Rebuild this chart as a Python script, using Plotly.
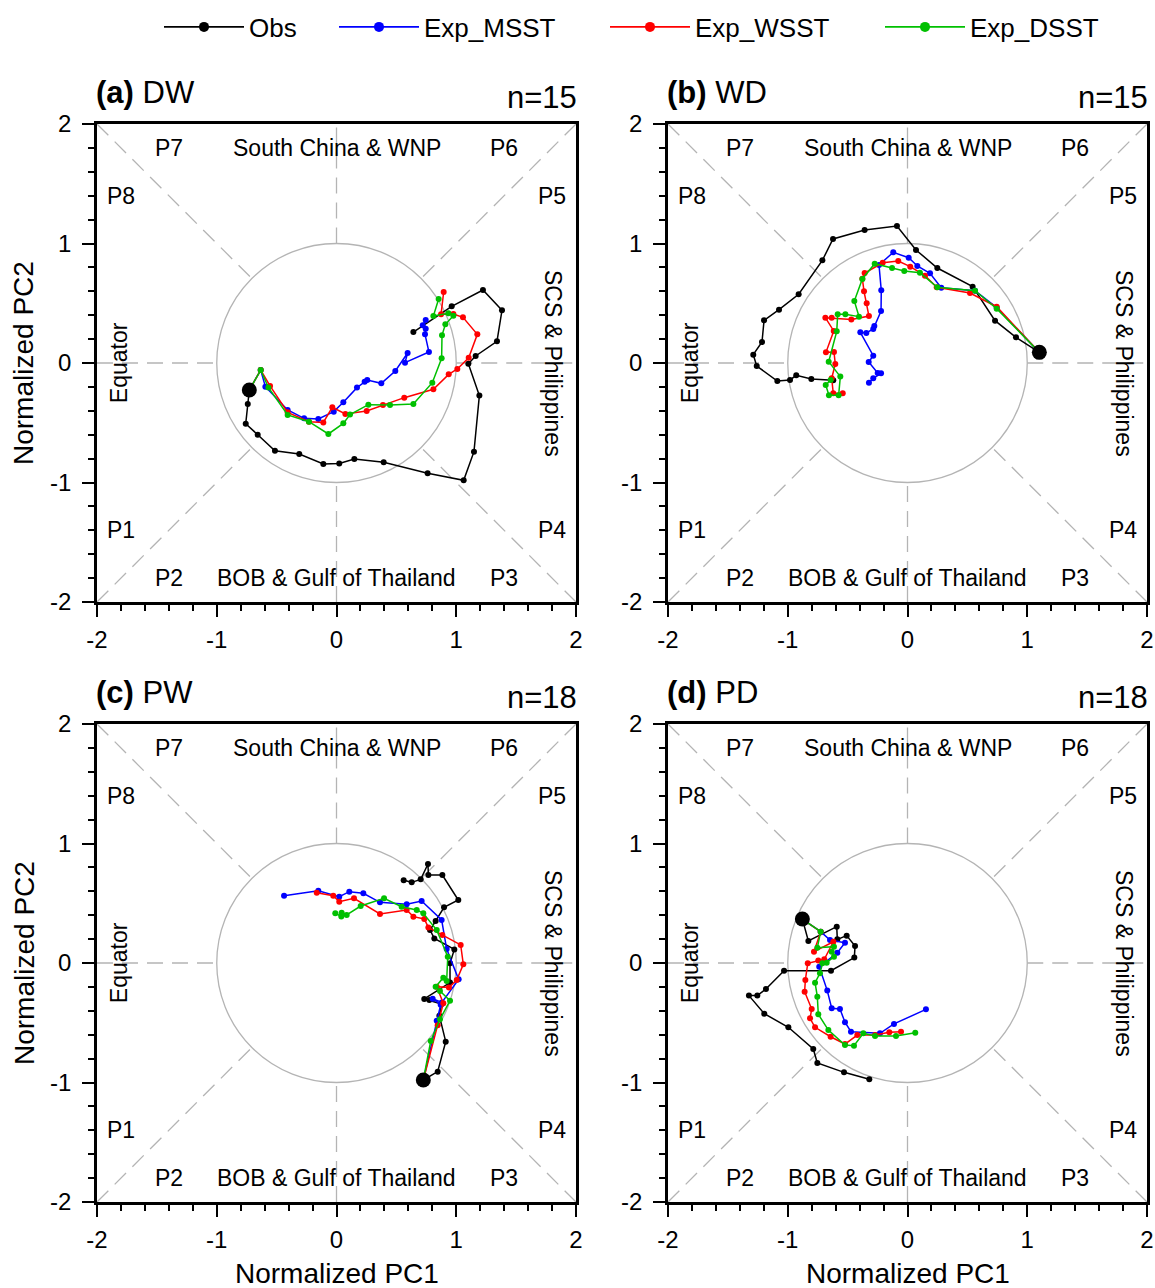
import plotly.graph_objects as go

# ---------------- data (Normalized PC1, PC2) ----------------
# Panel (a) DW
a_obs_x = [-0.728, -0.741, -0.758, -0.658, -0.514, -0.311, -0.110, 0.023, 0.149, 0.394, 0.761, 1.062, 1.148, 1.193, 1.101, 1.162, 1.340, 1.382, 1.223, 0.962, 0.642]
a_obs_y = [-0.226, -0.343, -0.508, -0.600, -0.734, -0.762, -0.845, -0.840, -0.803, -0.831, -0.923, -0.982, -0.742, -0.273, -0.006, 0.059, 0.181, 0.441, 0.611, 0.474, 0.259]
a_msst_x = [-0.728, -0.633, -0.594, -0.408, -0.271, -0.152, -0.023, 0.057, 0.171, 0.235, 0.257, 0.374, 0.491, 0.594, 0.572, 0.772, 0.739, 0.745, 0.720, 0.745]
a_msst_y = [-0.226, -0.059, -0.198, -0.393, -0.463, -0.469, -0.407, -0.329, -0.206, -0.156, -0.142, -0.170, -0.067, 0.084, 0.003, 0.092, 0.240, 0.287, 0.315, 0.360]
a_wsst_x = [-0.728, -0.633, -0.555, -0.408, -0.230, -0.110, -0.035, 0.074, 0.252, 0.388, 0.566, 0.809, 0.937, 1.009, 1.104, 1.176, 1.056, 0.976, 0.873, 0.895]
a_wsst_y = [-0.226, -0.059, -0.192, -0.413, -0.491, -0.497, -0.371, -0.427, -0.402, -0.351, -0.290, -0.220, -0.095, -0.050, 0.044, 0.240, 0.382, 0.410, 0.408, 0.594]
a_dsst_x = [-0.728, -0.633, -0.569, -0.408, -0.230, -0.068, 0.057, 0.113, 0.266, 0.447, 0.642, 0.800, 0.878, 0.881, 0.909, 0.976, 0.934, 0.809, 0.853]
a_dsst_y = [-0.226, -0.059, -0.204, -0.435, -0.491, -0.594, -0.505, -0.432, -0.349, -0.351, -0.343, -0.165, 0.039, 0.232, 0.324, 0.396, 0.416, 0.393, 0.536]

# Panel (b) WD
b_obs_x = [1.101, 0.906, 0.731, 0.544, 0.249, 0.071, -0.088, -0.358, -0.622, -0.711, -0.909, -1.073, -1.198, -1.215, -1.288, -1.259, -1.087, -0.981, -0.929, -0.803, -0.620]
b_obs_y = [0.089, 0.215, 0.354, 0.639, 0.795, 0.946, 1.146, 1.113, 1.038, 0.859, 0.575, 0.446, 0.357, 0.176, 0.070, -0.025, -0.151, -0.142, -0.103, -0.134, -0.145]
b_msst_x = [1.101, 0.745, 0.564, 0.282, 0.188, 0.082, 0.010, -0.119, -0.238, -0.219, -0.221, -0.277, -0.286, -0.344, -0.394, -0.286, -0.324, -0.249, -0.221, -0.286, -0.322]
b_msst_y = [0.089, 0.463, 0.605, 0.630, 0.751, 0.812, 0.881, 0.926, 0.820, 0.608, 0.435, 0.310, 0.285, 0.251, 0.257, 0.061, 0.008, -0.084, -0.086, -0.128, -0.165]
b_wsst_x = [1.101, 0.745, 0.522, 0.244, 0.146, 0.023, -0.077, -0.207, -0.358, -0.377, -0.363, -0.341, -0.322, -0.469, -0.633, -0.686, -0.616, -0.681, -0.614, -0.603, -0.633, -0.620, -0.541]
b_wsst_y = [0.089, 0.471, 0.586, 0.633, 0.731, 0.806, 0.854, 0.839, 0.753, 0.706, 0.600, 0.499, 0.393, 0.365, 0.379, 0.379, 0.268, 0.089, 0.092, -0.008, -0.128, -0.254, -0.254]
b_dsst_x = [1.101, 0.745, 0.564, 0.249, 0.104, -0.027, -0.129, -0.274, -0.377, -0.444, -0.405, -0.519, -0.583, -0.591, -0.658, -0.561, -0.575, -0.656, -0.683, -0.642]
b_dsst_y = [0.089, 0.454, 0.605, 0.633, 0.756, 0.770, 0.795, 0.831, 0.703, 0.519, 0.388, 0.407, 0.407, 0.265, 0.011, -0.114, -0.270, -0.270, -0.184, -0.142]

# Panel (c) PW
c_obs_x = [0.725, 0.845, 0.912, 0.859, 0.878, 0.775, 0.733, 0.948, 0.948, 0.984, 0.817, 0.781, 0.828, 0.898, 1.017, 0.884, 0.767, 0.764, 0.703, 0.628, 0.561]
c_obs_y = [-0.979, -0.909, -0.658, -0.441, -0.343, -0.310, -0.301, -0.164, -0.003, 0.114, 0.206, 0.276, 0.351, 0.466, 0.527, 0.736, 0.736, 0.828, 0.700, 0.675, 0.692]
c_msst_x = [0.725, 0.837, 0.870, 0.803, 0.880, 1.020, 0.920, 0.878, 0.711, 0.586, 0.363, 0.224, 0.107, 0.023, -0.152, -0.438]
c_msst_y = [-0.979, -0.483, -0.349, -0.299, -0.330, -0.137, 0.117, 0.360, 0.519, 0.491, 0.508, 0.583, 0.597, 0.555, 0.605, 0.563]
c_wsst_x = [0.725, 0.845, 0.892, 0.837, 0.939, 1.004, 1.059, 1.037, 0.884, 0.767, 0.733, 0.642, 0.586, 0.363, 0.146, 0.023, -0.027, -0.165]
c_wsst_y = [-0.979, -0.520, -0.337, -0.198, -0.204, -0.142, -0.011, 0.151, 0.234, 0.298, 0.368, 0.388, 0.444, 0.410, 0.541, 0.513, 0.563, 0.588]
c_dsst_x = [0.725, 0.787, 0.864, 0.948, 0.864, 0.828, 0.892, 0.920, 0.929, 0.837, 0.725, 0.670, 0.544, 0.397, 0.202, 0.085, 0.043, 0.040, -0.010]
c_dsst_y = [-0.979, -0.653, -0.471, -0.315, -0.234, -0.198, -0.123, -0.150, 0.053, 0.276, 0.416, 0.444, 0.471, 0.541, 0.477, 0.402, 0.421, 0.390, 0.416]

# Panel (d) PD
d_obs_x = [-0.878, -0.828, -0.591, -0.586, -0.508, -0.438, -0.444, -0.639, -1.031, -1.182, -1.254, -1.324, -1.196, -0.995, -0.787, -0.753, -0.530, -0.319]
d_obs_y = [0.368, 0.184, 0.304, 0.198, 0.229, 0.142, 0.045, -0.064, -0.064, -0.218, -0.273, -0.273, -0.424, -0.538, -0.720, -0.837, -0.915, -0.973]
d_msst_x = [-0.878, -0.725, -0.647, -0.522, -0.586, -0.737, -0.670, -0.633, -0.564, -0.522, -0.472, -0.230, -0.113, 0.154]
d_msst_y = [0.368, 0.262, 0.192, 0.170, 0.086, -0.031, -0.231, -0.379, -0.385, -0.496, -0.575, -0.588, -0.510, -0.388]
d_wsst_x = [-0.878, -0.725, -0.781, -0.619, -0.695, -0.745, -0.833, -0.853, -0.859, -0.800, -0.814, -0.772, -0.642, -0.522, -0.419, -0.271, -0.152, -0.054]
d_wsst_y = [0.368, 0.262, 0.095, 0.178, 0.031, 0.020, -0.003, -0.142, -0.240, -0.385, -0.463, -0.538, -0.617, -0.678, -0.603, -0.603, -0.580, -0.575]
d_dsst_x = [-0.878, -0.725, -0.753, -0.614, -0.633, -0.614, -0.675, -0.711, -0.731, -0.772, -0.753, -0.745, -0.661, -0.522, -0.447, -0.369, -0.271, -0.096, 0.065]
d_dsst_y = [0.368, 0.262, 0.128, 0.137, 0.095, 0.053, 0.003, -0.003, -0.086, -0.165, -0.282, -0.429, -0.561, -0.686, -0.692, -0.588, -0.611, -0.611, -0.583]

panel_titles = ["(a)", "(b)", "(c)", "(d)"]
panel_names = ["DW", "WD", "PW", "PD"]
panel_n = ["n=15", "n=15", "n=18", "n=18"]
series_names = ["Obs", "Exp_MSST", "Exp_WSST", "Exp_DSST"]
tick_vals = [-2, -1, 0, 1, 2]

panels = [
    (a_obs_x, a_obs_y, a_msst_x, a_msst_y, a_wsst_x, a_wsst_y, a_dsst_x, a_dsst_y),
    (b_obs_x, b_obs_y, b_msst_x, b_msst_y, b_wsst_x, b_wsst_y, b_dsst_x, b_dsst_y),
    (c_obs_x, c_obs_y, c_msst_x, c_msst_y, c_wsst_x, c_wsst_y, c_dsst_x, c_dsst_y),
    (d_obs_x, d_obs_y, d_msst_x, d_msst_y, d_wsst_x, d_wsst_y, d_dsst_x, d_dsst_y),
]

# ---------------- styles / layout ----------------
OFF = 0                      # page body margin is removed by the post script
W, H = 1155, 1288
FONT = "Liberation Sans, Arial, Helvetica, sans-serif"
colors = ["#000000", "#0000ff", "#ff0000", "#00c000"]
gray = "#b4b4b4"


def fx(p):
    return (p - OFF) / W


def fy(p):
    return 1 - (p - OFF) / H


# screen-pixel boxes of the four plot areas: (left, right, top, bottom)
boxes = [(97, 576, 124, 602), (668, 1147, 124, 602),
         (97, 576, 724, 1202), (668, 1147, 724, 1202)]

fig = go.Figure()
layout = dict(
    width=W, height=H, autosize=False,
    margin=dict(l=0, r=0, t=0, b=0, pad=0, autoexpand=False),
    paper_bgcolor="white", plot_bgcolor="white",
    font=dict(family=FONT, size=23, color="black"),
    showlegend=True,
)

# one legend per series, each placed where its entry sits
legend_text_x = [251, 426, 697, 972]
ITEMW = 80
legend_keys = ["legend", "legend2", "legend3", "legend4"]
for k, key in enumerate(legend_keys):
    layout[key] = dict(orientation="h", x=fx(legend_text_x[k] - ITEMW - 12), xanchor="left",
                       y=fy(27), yanchor="middle", font=dict(size=26), itemwidth=ITEMW,
                       bgcolor="rgba(0,0,0,0)", borderwidth=0, itemclick=False,
                       itemdoubleclick=False)

shapes = []
annotations = []

region_labels = [
    ("P7", -1.40, 1.80, 0), ("P6", 1.40, 1.80, 0), ("P8", -1.80, 1.40, 0), ("P5", 1.80, 1.40, 0),
    ("P1", -1.80, -1.40, 0), ("P4", 1.80, -1.40, 0), ("P2", -1.40, -1.80, 0), ("P3", 1.40, -1.80, 0),
    ("South China & WNP", 0.0, 1.80, 0), ("BOB & Gulf of Thailand", 0.0, -1.80, 0),
    ("Equator", -1.815, 0.0, -90), ("SCS & Philippines", 1.808, 0.0, 90),
]

r45 = 0.7071
dash_segments = [(-2, 2, -r45, r45), (2, 2, r45, r45), (-2, -2, -r45, -r45), (2, -2, r45, -r45),
                 (-2, 0, -1, 0), (1, 0, 2, 0), (0, 1, 0, 2), (0, -2, 0, -1)]

for i, (box, data) in enumerate(zip(boxes, panels)):
    l, r, t, b = box
    xa = "xaxis" if i == 0 else f"xaxis{i + 1}"
    ya = "yaxis" if i == 0 else f"yaxis{i + 1}"
    xr = "x" if i == 0 else f"x{i + 1}"
    yr = "y" if i == 0 else f"y{i + 1}"
    common = dict(range=[-2, 2], tickvals=tick_vals, ticktext=[str(v) for v in tick_vals],
                  ticks="outside", ticklen=12, tickwidth=2, tickcolor="black",
                  showline=True, linewidth=2.5, linecolor="black", mirror=True,
                  showgrid=False, zeroline=False, tickfont=dict(size=24),
                  ticklabeloverflow="allow",
                  minor=dict(dtick=0.2, tick0=0, ticks="outside", ticklen=6, tickwidth=1.5,
                             tickcolor="black", showgrid=False),
                  fixedrange=True, automargin=False)
    layout[xa] = dict(common, domain=[fx(l), fx(r)], anchor=yr, ticklabelstandoff=2)
    layout[ya] = dict(common, domain=[fy(b), fy(t)], anchor=xr, ticklabelstandoff=6)

    # background guide lines
    for (x0, y0, x1, y1) in dash_segments:
        shapes.append(dict(type="line", xref=xr, yref=yr, x0=x0, y0=y0, x1=x1, y1=y1,
                           line=dict(color=gray, width=1.3, dash="16px,9px"), layer="below"))
    shapes.append(dict(type="circle", xref=xr, yref=yr, x0=-1, y0=-1, x1=1, y1=1,
                       line=dict(color=gray, width=1.3), layer="below"))

    for (txt, tx, ty, ang) in region_labels:
        annotations.append(dict(text=txt, x=tx, y=ty, xref=xr, yref=yr, showarrow=False,
                                textangle=ang, font=dict(size=23), xanchor="center", yanchor="middle"))

    # panel title and sample size
    annotations.append(dict(text=f"<b>{panel_titles[i]}</b> {panel_names[i]}",
                            x=fx(l - 3), y=fy(t - 31), xref="paper", yref="paper",
                            xanchor="left", yanchor="middle", showarrow=False,
                            font=dict(size=31)))
    annotations.append(dict(text=panel_n[i], x=fx(r + 3), y=fy(t - 27), xref="paper", yref="paper",
                            xanchor="right", yanchor="middle", showarrow=False,
                            font=dict(size=31)))

    # trajectories
    for k in range(4):
        xs, ys = data[2 * k], data[2 * k + 1]
        fig.add_trace(go.Scatter(
            x=xs, y=ys, mode="lines+markers", name=series_names[k],
            xaxis=xr, yaxis=yr, showlegend=False,
            line=dict(color=colors[k], width=1.5),
            marker=dict(color=colors[k], size=6)))
    # starting point
    fig.add_trace(go.Scatter(
        x=[data[0][0]], y=[data[1][0]], mode="markers", xaxis=xr, yaxis=yr,
        showlegend=False, marker=dict(color="black", size=15)))

# legend entries (no data, only the key)
for k in range(4):
    fig.add_trace(go.Scatter(
        x=[None], y=[None], mode="lines+markers", name=series_names[k],
        xaxis="x", yaxis="y", showlegend=True, legend=legend_keys[k],
        line=dict(color=colors[k], width=1.8), marker=dict(color=colors[k], size=10)))

# axis titles
for yc in (363, 963):
    annotations.append(dict(text="Normalized PC2", x=fx(24), y=fy(yc), xref="paper", yref="paper",
                            textangle=-90, showarrow=False, font=dict(size=28),
                            xanchor="center", yanchor="middle"))
for xc in (336.5, 907.5):
    annotations.append(dict(text="Normalized PC1", x=fx(xc), y=fy(1273), xref="paper", yref="paper",
                            showarrow=False, font=dict(size=28), xanchor="center", yanchor="middle"))

layout["shapes"] = shapes
layout["annotations"] = annotations
fig.update_layout(**layout)

fig.write_html("out.html",
               config={"displayModeBar": False},
               post_script="document.body.style.margin='0';document.body.style.overflow='hidden';")
